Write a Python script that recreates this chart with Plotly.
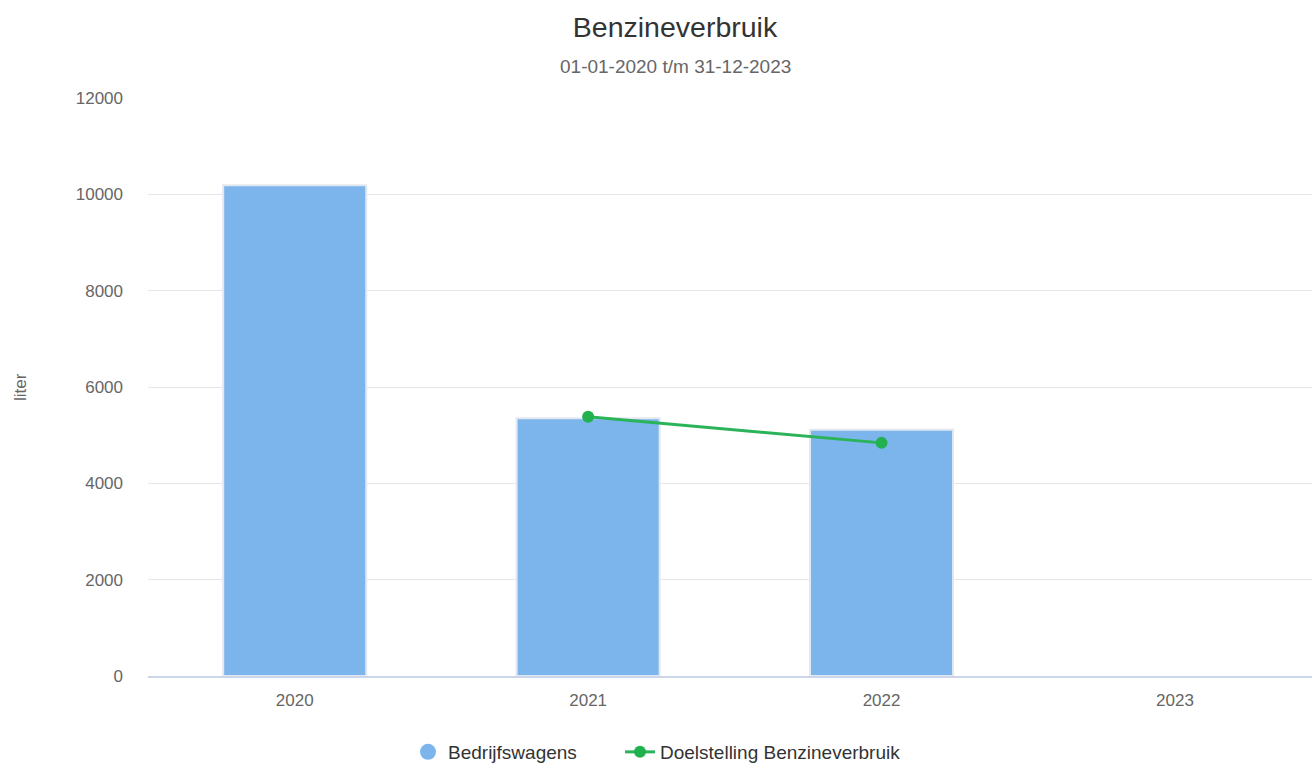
import plotly.graph_objects as go

jaren = ['2020', '2021', '2022', '2023']
bedrijfswagens = [10190, 5350, 5110, None]
doel_jaren = ['2021', '2022']
doelstelling = [5380, 4840]

fig = go.Figure()
fig.add_trace(go.Bar(
    x=jaren, y=bedrijfswagens, name='Bedrijfswagens',
    marker_color='#7cb5ec', marker_line_color='#e3e8f0', marker_line_width=2,
    showlegend=False,
))
# legend proxy with a round symbol, like the original
fig.add_trace(go.Scatter(
    x=[None], y=[None], mode='markers', name='Bedrijfswagens',
    marker=dict(color='#7cb5ec', size=18, symbol='circle'),
    legend='legend',
))
fig.add_trace(go.Scatter(
    x=doel_jaren, y=doelstelling, mode='lines+markers',
    name='Doelstelling Benzineverbruik',
    line=dict(color='#2bb35a', width=3),
    marker=dict(color='#22b14f', size=12),
    legend='legend2',
))

legend_style = dict(orientation='h', xanchor='left', yref='paper',
                    y=(676 - 752) / 578, yanchor='middle',
                    font=dict(size=19, color='#333333'), itemwidth=30)

fig.update_layout(
    width=1312, height=764,
    margin=dict(l=148, r=0, t=98, b=88, autoexpand=False),
    paper_bgcolor='white', plot_bgcolor='white',
    font=dict(family='Liberation Sans, Arial, sans-serif', color='#666666', size=17),
    bargap=0.5125,
    title=dict(text='Benzineverbruik', x=675 / 1312, xanchor='center', y=1 - 27 / 764,
               yanchor='middle', font=dict(size=28.5, color='#333333')),
    legend=dict(x=(408 - 148) / 1164, **legend_style),
    legend2=dict(x=(620 - 148) / 1164, **legend_style),
)
fig.add_annotation(text='01-01-2020 t/m 31-12-2023', xref='paper', yref='paper',
                   x=(675 - 148) / 1164, y=1 + 32 / 578, showarrow=False,
                   xanchor='center', yanchor='middle',
                   font=dict(size=19, color='#666666'))
fig.add_annotation(text='liter', xref='paper', yref='paper',
                   x=(20 - 148) / 1164, y=0.5, textangle=-90, showarrow=False,
                   xanchor='center', yanchor='middle',
                   font=dict(size=17, color='#666666'))

fig.update_xaxes(type='category', range=[-0.5, 3.467], showgrid=False, showline=True,
                 linecolor='#ccd6eb', linewidth=2, ticks='', ticklabelstandoff=8,
                 automargin=False)
fig.update_yaxes(range=[0, 12000], dtick=2000, tickformat='d', showgrid=True,
                 gridcolor='#e6e6e6', gridwidth=1, zeroline=False, showline=False,
                 ticklabelstandoff=24, automargin=False)

fig.write_html('out.html', config={'displayModeBar': False},
               post_script="document.body.style.margin='0px';")
